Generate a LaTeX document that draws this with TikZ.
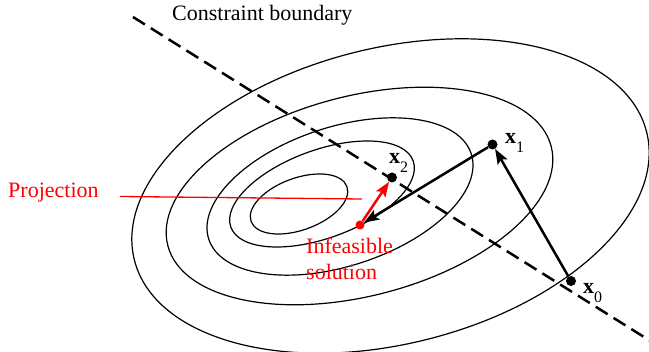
\documentclass[tikz,border=0pt]{standalone}
\usepackage{fontspec}
\setmainfont{Liberation Serif}
\usetikzlibrary{arrows.meta}
\begin{document}
\begin{tikzpicture}[x=1pt,y=-1pt,
  ell/.style={line width=1.2pt},
  dot/.style={circle,fill=black,inner sep=0pt,minimum size=10pt},
  rdot/.style={circle,fill=red,inner sep=0pt,minimum size=9pt},
  lbl/.style={font=\fontsize{22}{26}\selectfont,inner sep=0pt},
  arr/.style={line width=2.5pt,-{Stealth[length=15pt,width=11pt,inset=3pt]}},
  bound/.style={line width=2.5pt,dash pattern=on 14pt off 7pt},
  sub/.style={}]
\useasboundingbox (0,0) rectangle (649,352);
% contours
\draw[ell, rotate around={20:(299,204)}] (299,204) ellipse [x radius=51pt, y radius=26pt];
\draw[ell, rotate around={20:(322,194)}] (322,194) ellipse [x radius=97pt, y radius=44pt];
\draw[ell, rotate around={18:(340,196.5)}] (340,196.5) ellipse [x radius=138pt, y radius=69.5pt];
\draw[ell, rotate around={14.5:(359.5,196)}] (359.5,196) ellipse [x radius=198pt, y radius=100pt];
\draw[ell, rotate around={14:(390.5,196)}] (390.5,196) ellipse [x radius=264pt, y radius=148pt];
% constraint boundary
\coordinate (cb1) at (133,17);
\coordinate (cb2) at (652,342);
\draw[bound] (cb1) -- (cb2);
\node[lbl, anchor=base west] (cbl) at (172,20.5) {Constraint boundary};
% points
\node[dot] (x0) at (571,281) {};
\node[dot] (x1) at (492.5,144.5) {};
\node[dot] (x2) at (392,177.5) {};
\node[rdot] (inf) at (360,225) {};
% labels
\node[lbl, anchor=base west] (lx0) at (583,294) {\textbf{x}\raisebox{-8.5pt}{\fontsize{16}{16}\selectfont 0}};
\node[lbl, anchor=base west] (lx1) at (505,144) {\textbf{x}\raisebox{-9pt}{\fontsize{16}{16}\selectfont 1}};
\node[lbl, anchor=base west] (lx2) at (389,164) {\textbf{x}\raisebox{-9pt}{\fontsize{16}{16}\selectfont 2}};
% arrows
\draw[arr] (x0) -- (x1);
\draw[arr] (x1) -- (inf);
\draw[arr, red] (inf) -- (x2);
% projection
\node[lbl, red, anchor=base west] (proj) at (8,198) {Projection};
\coordinate (pj1) at (120,196.5);
\coordinate (pj2) at (362,199);
\draw[red, line width=1.3pt] (pj1) -- (pj2);
\node[lbl, red, anchor=north west, align=left] (infl) at (306,238) {Infeasible\\solution};
\end{tikzpicture}
\end{document}
